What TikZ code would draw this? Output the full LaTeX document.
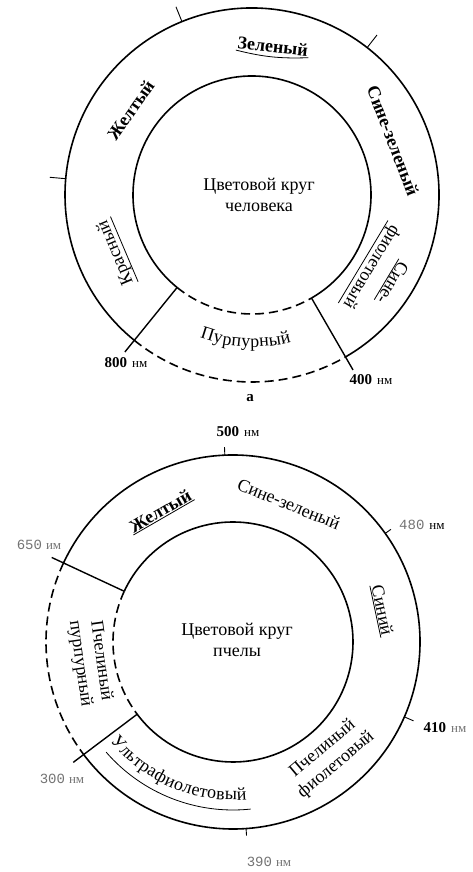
\documentclass[tikz,border=0pt]{standalone}
\usepackage{fontspec}
\setmainfont{Liberation Serif}
\newfontfamily\monofont{Liberation Mono}
\usetikzlibrary{decorations.text}
\newcommand\unitnm{{\fontsize{13}{15}\selectfont нм}}

\begin{document}
\begin{tikzpicture}[x=1pt,y=1pt,
    ring/.style={line width=1.6pt},
    gap/.style={line width=1.6pt,dash pattern=on 9pt off 5pt},
    spoke/.style={line width=1.4pt},
    tick/.style={line width=0.9pt},
    lab/.style={inner sep=1pt,font=\fontsize{18}{21}\selectfont},
    blab/.style={inner sep=1pt,font=\fontsize{18}{21}\selectfont\bfseries},
    nm/.style={inner sep=1pt,font=\fontsize{15}{17}\selectfont},
    grey/.style={inner sep=1pt,text=black!55,font=\fontsize{14}{16}\selectfont},
    uline/.style={line width=0.8pt}]
  \useasboundingbox (0,0) rectangle (473,872);
  \coordinate (T) at (252,677);
  \coordinate (B) at (233,230);

  % Human wheel
  \foreach \r in {119,187} {
    \draw[ring] ([shift={(300:\r)}]T) arc[start angle=300,end angle=591,radius=\r];
    \draw[gap] ([shift={(231:\r)}]T) arc[start angle=231,end angle=300,radius=\r];
  }
  \foreach \a/\n in {231/hA,300/hB} {
    \coordinate (\n in) at ([shift={(\a:119)}]T);
    \coordinate (\n out) at ([shift={(\a:202)}]T);
    \draw[spoke] (\n in) -- (\n out);
  }
  \foreach \a in {52,112,175}
    \draw[tick] ([shift={(\a:187)}]T) -- ([shift={(\a:203)}]T);
  \node[lab,align=center] (hum) at (259,677) {Цветовой круг\\человека};
  \node[blab,rotate=-6] (zel) at ([shift={(82:150)}]T) {Зеленый};
  \draw[uline] (zel.south west) to[bend right=8] (zel.south east);
  \node[blab,rotate=55] (zhT) at ([shift={(145:148)}]T) {Желтый};
  \node[blab,rotate=-69] (szT) at ([shift={(21:151)}]T) {Сине-зеленый};
  \node[lab,rotate=113] (kr) at ([shift={(203:148)}]T) {Красный};
  \draw[uline] (kr.south west) -- (kr.south east);
  \node[lab,rotate=-121] (sfA) at ([shift={(-32:166)}]T) {Сине-};
  \draw[uline] (sfA.south west) -- (sfA.south east);
  \node[lab,rotate=-121] (sfB) at ([shift={(-31:139)}]T) {фиолетовый};
  \draw[uline] (sfB.south west) -- (sfB.south east);
  \path[decorate,decoration={text along path,text align={fit to path},
      text={|\fontsize{18}{20}\selectfont|Пурпурный}}]
    ([shift={(250:152)}]T) arc[start angle=250,end angle=285,radius=152];
  \node[nm] (l800) at (126,509) {\textbf{800}\hspace{5pt}\unitnm};
  \node[nm] (l400) at (371,492) {\textbf{400}\hspace{5pt}\unitnm};
  \node[nm,font=\fontsize{15}{17}\selectfont\bfseries] (capA) at (250,474) {а};

  % Bee wheel
  \foreach \r in {120,187} {
    \draw[ring] ([shift={(217:\r)}]B) arc[start angle=217,end angle=515,radius=\r];
    \draw[gap] ([shift={(155:\r)}]B) arc[start angle=155,end angle=217,radius=\r];
  }
  \foreach \a/\n in {155/bA,217/bB} {
    \coordinate (\n in) at ([shift={(\a:120)}]B);
    \coordinate (\n out) at ([shift={(\a:200)}]B);
    \draw[spoke] (\n in) -- (\n out);
  }
  \foreach \a/\l in {92.5/8,35.5/7,336.4/10,274/7}
    \draw[tick] ([shift={(\a:187)}]B) -- ([shift={(\a:187+\l)}]B);
  \node[lab,align=center] (bee) at (237,232) {Цветовой круг\\пчелы};
  \node[blab,rotate=30] (zhB) at ([shift={(119:150)}]B) {Желтый};
  \draw[uline] (zhB.south west) -- (zhB.south east);
  \node[lab,rotate=-22] (szB) at ([shift={(68:149)}]B) {Сине-зеленый};
  \node[lab,rotate=-78] (sin) at ([shift={(12:153)}]B) {Синий};
  \draw[uline] (sin.south west) -- (sin.south east);
  \node[lab,rotate=-82,align=center] (pp) at ([shift={(188:144)}]B) {Пчелиный\\пурпурный};
  \node[lab,rotate=40,align=center] (pf) at ([shift={(310:150)}]B) {Пчелиный\\фиолетовый};
  \path[decorate,decoration={text along path,text align={fit to path},
      text={|\fontsize{18}{20}\selectfont|Ультрафиолетовый}}]
    ([shift={(219:158)}]B) arc[start angle=219,end angle=275,radius=158];
  \draw[uline] ([shift={(221:168)}]B) arc[start angle=221,end angle=276,radius=168];
  \node[nm] (l500) at (238,440) {\textbf{500}\hspace{5pt}\unitnm};
  \node[grey,anchor=west] (l480) at (398,347) {{\monofont 480}\hspace{5pt}\textcolor{black}{\unitnm}};
  \node[grey] (l650) at (39,327) {{\monofont 650}\hspace{4pt}{\fontsize{13}{15}\selectfont им}};
  \node[nm] (l410) at (445,144) {\textbf{410}\hspace{5pt}\textcolor{black!55}{\unitnm}};
  \node[grey] (l300) at (62,93) {{\monofont 300}\hspace{4pt}\unitnm};
  \node[grey] (l390) at (269,10) {{\monofont 390}\hspace{4pt}\unitnm};
\end{tikzpicture}
\end{document}
